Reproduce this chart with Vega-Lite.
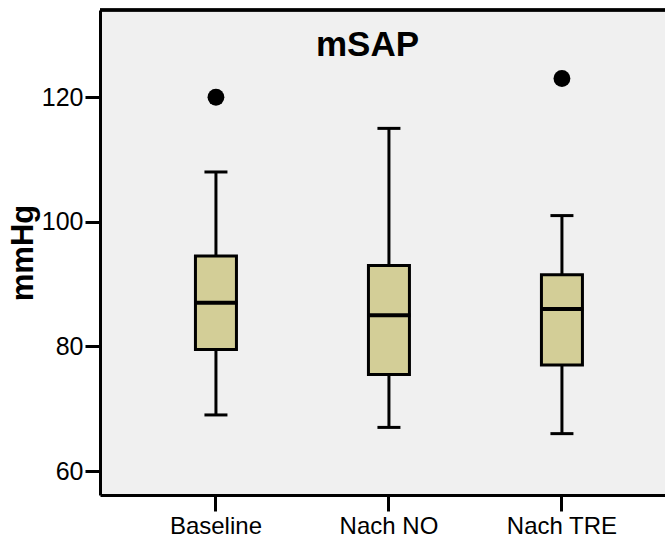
{
  "$schema": "https://vega.github.io/schema/vega-lite/v6.json",
  "width": 565,
  "height": 485,
  "autosize": "none",
  "padding": {"left": 100, "top": 10, "right": 0, "bottom": 44},
  "background": "white",
  "config": {"view": {"stroke": null, "fill": "#f0f0f0"}, "font": "Liberation Sans"},
  "title": {"text": "mSAP", "fontSize": 35, "fontWeight": "bold", "color": "black", "offset": -82, "baseline": "alphabetic", "dx": -15, "anchor": "middle", "frame": "group"},
  "datasets": {
    "boxes": [
      {"group": "Baseline", "lower": 69, "q1": 79.5, "median": 87, "q3": 94.5, "upper": 108},
      {"group": "Nach NO", "lower": 67, "q1": 75.5, "median": 85, "q3": 93, "upper": 115},
      {"group": "Nach TRE", "lower": 66, "q1": 77, "median": 86, "q3": 91.5, "upper": 101}
    ],
    "outliers": [
      {"group": "Baseline", "value": 120},
      {"group": "Nach TRE", "value": 123}
    ]
  },
  "data": {"name": "boxes"},
  "layer": [
    {
      "mark": {"type": "rule", "color": "black", "strokeWidth": 3},
      "encoding": {
        "x": {"field": "group", "type": "nominal",
          "scale": {"domain": ["Baseline", "Nach NO", "Nach TRE"], "paddingInner": 0, "paddingOuter": 0.133, "align": 0.64},
          "axis": {"title": null, "labelAngle": 0, "labelFontSize": 24, "labelColor": "black", "tickSize": 16, "tickWidth": 3, "tickColor": "black", "domainColor": "black", "domainWidth": 3, "labelPadding": 3}},
        "y": {"field": "lower", "type": "quantitative",
          "scale": {"domain": [56.15, 134], "nice": false, "zero": false},
          "axis": {"values": [60, 80, 100, 120], "title": "mmHg", "titleFontSize": 31, "titleFontWeight": "bold", "titleColor": "black", "titleAngle": -90, "titleAlign": "center", "titleBaseline": "alphabetic", "titleX": -68, "titleY": 242.5, "labelFontSize": 25, "labelColor": "black", "tickSize": 15, "tickWidth": 3, "tickColor": "black", "domainColor": "black", "domainWidth": 3, "labelPadding": 2, "grid": false}},
        "y2": {"field": "upper"}
      }
    },
    {
      "mark": {"type": "tick", "color": "black", "opacity": 1, "size": 23, "thickness": 3},
      "encoding": {"x": {"field": "group", "type": "nominal"}, "y": {"field": "lower", "type": "quantitative"}}
    },
    {
      "mark": {"type": "tick", "color": "black", "opacity": 1, "size": 23, "thickness": 3},
      "encoding": {"x": {"field": "group", "type": "nominal"}, "y": {"field": "upper", "type": "quantitative"}}
    },
    {
      "mark": {"type": "bar", "width": 41, "fill": "#d3ce97", "stroke": "black", "strokeWidth": 3, "opacity": 1},
      "encoding": {"x": {"field": "group", "type": "nominal"}, "y": {"field": "q1", "type": "quantitative"}, "y2": {"field": "q3"}}
    },
    {
      "mark": {"type": "tick", "color": "black", "opacity": 1, "size": 43, "thickness": 4},
      "encoding": {"x": {"field": "group", "type": "nominal"}, "y": {"field": "median", "type": "quantitative"}}
    },
    {
      "data": {"name": "outliers"},
      "mark": {"type": "point", "filled": true, "color": "black", "size": 283, "opacity": 1},
      "encoding": {"x": {"field": "group", "type": "nominal"}, "y": {"field": "value", "type": "quantitative"}}
    },
    {
      "mark": {"type": "rule", "color": "black", "strokeWidth": 3},
      "encoding": {"y": {"datum": 134}}
    }
  ]
}
